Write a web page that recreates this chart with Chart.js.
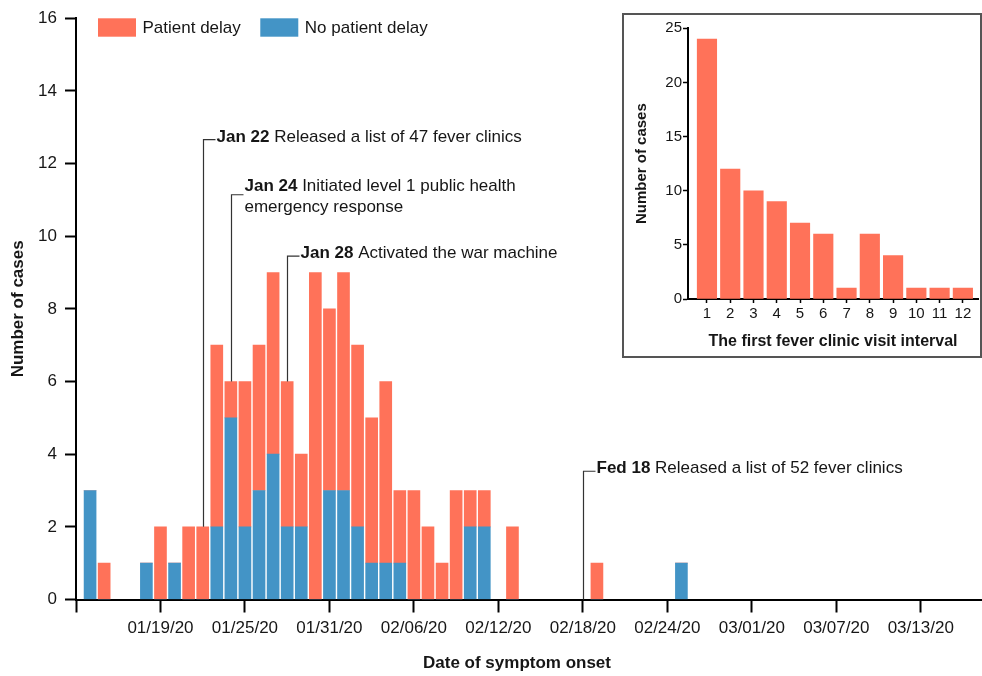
<!DOCTYPE html>
<html><head><meta charset="utf-8">
<script src="https://cdn.jsdelivr.net/npm/chart.js@4"></script>
<style>
html,body{margin:0;padding:0;background:#fff;}
#wrap{position:relative;width:982px;height:676px;overflow:hidden;}
#main{position:absolute;left:0;top:0;}
#insetBox{position:absolute;left:622px;top:13px;width:360px;height:345px;box-sizing:border-box;border:2px solid #555;background:#fff;}
#inset{position:absolute;left:623px;top:14px;}
</style></head><body>
<div id="wrap">
<canvas id="main" width="982" height="676"></canvas>
<div id="insetBox"></div>
<canvas id="inset" width="358" height="343"></canvas>
</div>
<script>
// ---------- data ----------
const onsetDates = ['01/14','01/15','01/18','01/19','01/20','01/21','01/22','01/23','01/24','01/25',
                    '01/26','01/27','01/28','01/29','01/30','01/31','02/01','02/02','02/03','02/04',
                    '02/05','02/06','02/07','02/08','02/09','02/10','02/11','02/13','02/19','02/25'];
const noPatientDelay = [3,0,1,0,1,0,0,2,5,2, 3,4,2,2,0,3,3,2,1,1, 1,0,0,0,0,2,2,0,0,1];
const patientDelay   = [0,1,0,2,0,2,2,5,1,4, 4,5,4,2,9,5,6,5,4,5, 2,3,2,1,3,1,1,2,1,0];
const xTickDates = ['01/13/20','01/19/20','01/25/20','01/31/20','02/06/20','02/12/20',
                    '02/18/20','02/24/20','03/01/20','03/07/20','03/13/20'];
const seriesLabels = ['No patient delay','Patient delay'];
const xAxisTitle = 'Date of symptom onset';

const annotationDates = ['01/22','01/24','01/28','02/18'];
const annotationHeads = ['Jan 22','Jan 24','Jan 28','Fed 18'];
const annotationTexts = [
  ['Released a list of 47 fever clinics'],
  ['Initiated level 1 public health','emergency response'],
  ['Activated the war machine'],
  ['Released a list of 52 fever clinics']
];

const intervalLabels = ['1','2','3','4','5','6','7','8','9','10','11','12'];
const intervalCases  = [24,12,10,9,7,6,1,6,4,1,1,1];

// ---------- style / layout ----------
const RED = 'rgb(255,114,89)';
const BLUE = 'rgb(67,148,198)';
const FONT = "'Liberation Sans', Arial, sans-serif";
const TXT = '#161616';
const annotationElbow = [12.66, 11.14, 9.45, 3.53]; // value-axis height of the elbow

function dayOf(s){
  const p = s.split('/');
  const y = p[2] ? 2000 + (+p[2]) : 2020;
  return Math.round((Date.UTC(y, +p[0]-1, +p[1]) - Date.UTC(2020,0,13)) / 86400000);
}
const xs = onsetDates.map(dayOf);

const legendPlugin = {
  id: 'customLegend',
  afterDraw(chart){
    const ctx = chart.ctx;
    const items = [chart.data.datasets[1], chart.data.datasets[0]];
    ctx.save();
    ctx.font = '17px ' + FONT;
    ctx.textBaseline = 'middle';
    let x = 98;
    const y = 18.3, h = 18.4, w = 38;
    items.forEach(ds => {
      ctx.fillStyle = ds.backgroundColor;
      ctx.fillRect(x, y, w, h);
      ctx.fillStyle = TXT;
      ctx.fillText(ds.label, x + w + 6.5, y + h/2 + 0.5);
      x += w + 6.5 + ctx.measureText(ds.label).width + 19.5;
    });
    // x-axis title
    ctx.font = 'bold 17px ' + FONT;
    ctx.textAlign = 'center';
    ctx.fillText(xAxisTitle, 517, 663);
    ctx.restore();
  }
};

const annotationPlugin = {
  id: 'annotations',
  afterDatasetsDraw(chart){
    const ctx = chart.ctx;
    const xS = chart.scales.x, yS = chart.scales.y;
    ctx.save();
    annotationDates.forEach((d, i) => {
      const day = dayOf(d);
      const idx = xs.indexOf(day);
      const total = idx >= 0 ? noPatientDelay[idx] + patientDelay[idx] : 0;
      const px = Math.round(xS.getPixelForValue(day)) + 0.5;
      const yBottom = yS.getPixelForValue(total);
      const yElbow = yS.getPixelForValue(annotationElbow[i]);
      ctx.strokeStyle = '#333';
      ctx.lineWidth = 1.2;
      ctx.beginPath();
      ctx.moveTo(px, yBottom);
      ctx.lineTo(px, yElbow);
      ctx.lineTo(px + 12, yElbow);
      ctx.stroke();
      const tx = px + 13;
      const lines = annotationTexts[i];
      let ty = yElbow - 2.5 - (lines.length - 1) * 5.5;
      ctx.textBaseline = 'middle';
      ctx.fillStyle = TXT;
      lines.forEach((ln, k) => {
        let cx = tx;
        if (k === 0) {
          ctx.font = 'bold 17px ' + FONT;
          ctx.fillText(annotationHeads[i], cx, ty);
          cx += ctx.measureText(annotationHeads[i] + ' ').width;
        }
        ctx.font = '17px ' + FONT;
        ctx.fillText(ln, cx, ty);
        ty += 21;
      });
    });
    ctx.restore();
  }
};

new Chart(document.getElementById('main'), {
  type: 'bar',
  data: {
    datasets: [
      { label: seriesLabels[0], data: xs.map((x,i)=>({x, y: noPatientDelay[i]})),
        backgroundColor: BLUE, borderWidth: 0, barThickness: 12, stack: 'onset' },
      { label: seriesLabels[1], data: xs.map((x,i)=>({x, y: patientDelay[i]})),
        backgroundColor: RED, borderWidth: 0, barThickness: 12, stack: 'onset' }
    ]
  },
  options: {
    responsive: false, animation: false,
    layout: { padding: { top: 16, right: 0, left: 0, bottom: 0 } },
    plugins: { legend: { display: false }, tooltip: { enabled: false } },
    scales: {
      x: {
        type: 'linear', min: 0, max: 64.35, offset: false, stacked: true,
        afterFit(s){ s.height = 76.5; },
        afterBuildTicks(s){ s.ticks = xTickDates.map(d => ({ value: dayOf(d) })); },
        ticks: {
          autoSkip: false, maxRotation: 0, padding: 5.3, color: TXT,
          font: { family: FONT, size: 17 },
          callback(v){ const i = xTickDates.findIndex(d => dayOf(d) === v); return i > 0 ? xTickDates[i] : ''; }
        },
        grid: { drawOnChartArea: false, drawTicks: true, tickLength: 13, tickWidth: 2, tickColor: '#000', offset: false },
        border: { display: true, color: '#000', width: 2 },
        title: { display: false }
      },
      y: {
        stacked: true, min: 0, max: 16,
        afterFit(s){ s.width = 76; },
        ticks: { stepSize: 2, padding: 8, color: TXT, font: { family: FONT, size: 17 } },
        grid: { drawOnChartArea: false, drawTicks: true, tickLength: 11, tickWidth: 2, tickColor: '#000' },
        border: { display: true, color: '#000', width: 2 },
        title: { display: true, text: 'Number of cases', color: TXT,
                 font: { family: FONT, size: 17, weight: 'bold' }, padding: { top: 7.8, bottom: 0 } }
      }
    }
  },
  plugins: [legendPlugin, annotationPlugin]
});

new Chart(document.getElementById('inset'), {
  type: 'bar',
  data: {
    datasets: [{
      label: 'Number of cases',
      data: intervalLabels.map((l,i) => ({ x: +l, y: intervalCases[i] })),
      backgroundColor: RED, borderWidth: 0, barThickness: 19.5
    }]
  },
  options: {
    responsive: false, animation: false,
    layout: { padding: { top: 14.3, right: 3, left: 0, bottom: 0 } },
    plugins: { legend: { display: false }, tooltip: { enabled: false } },
    scales: {
      x: {
        type: 'linear', min: 0.185, max: 12.65, offset: false,
        afterFit(s){ s.height = 58; },
        afterBuildTicks(s){ s.ticks = intervalLabels.map(l => ({ value: +l })); },
        ticks: {
          autoSkip: false, maxRotation: 0, padding: 2, color: TXT,
          font: { family: FONT, size: 15 },
          callback(v){ const i = intervalLabels.indexOf(String(v)); return i >= 0 ? intervalLabels[i] : ''; }
        },
        grid: { drawOnChartArea: false, drawTicks: true, tickLength: 4, tickWidth: 1.5, tickColor: '#000', offset: false },
        border: { display: true, color: '#000', width: 2 },
        title: { display: true, text: 'The first fever clinic visit interval', color: TXT,
                 font: { family: FONT, size: 16, weight: 'bold' }, padding: { top: 0, bottom: 5.7 } }
      },
      y: {
        min: 0, max: 25,
        afterFit(s){ s.width = 65; },
        ticks: { stepSize: 5, padding: 1, color: TXT, font: { family: FONT, size: 15 } },
        grid: { drawOnChartArea: false, drawTicks: true, tickLength: 5, tickWidth: 1.5, tickColor: '#000' },
        border: { display: true, color: '#000', width: 2 },
        title: { display: true, text: 'Number of cases', color: TXT,
                 font: { family: FONT, size: 15, weight: 'bold' }, padding: { top: 9.7, bottom: 0 } }
      }
    }
  }
});
</script>
</body></html>
